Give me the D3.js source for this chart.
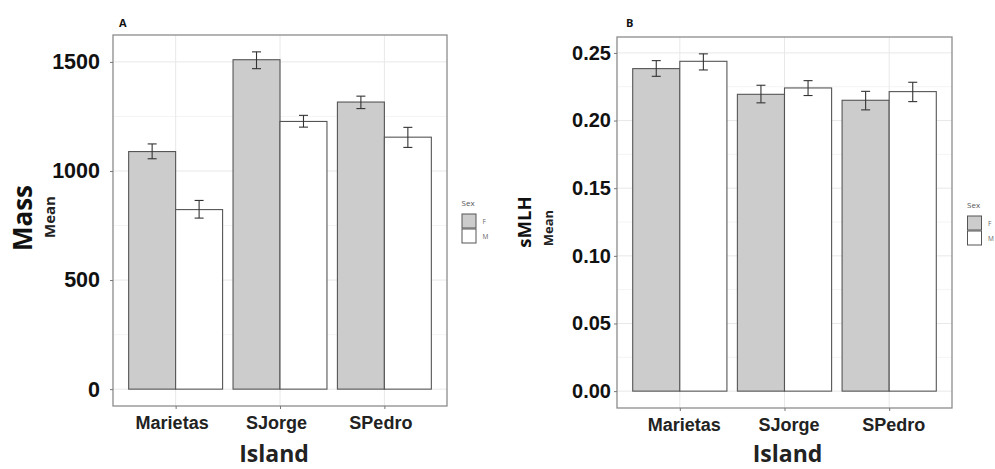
<!DOCTYPE html>
<html lang="en">
<head>
<meta charset="UTF-8">
<title>Mass and sMLH by island</title>
<script src="https://d3js.org/d3.v7.min.js"></script>
<style>
    body { margin: 0; background: #fff; }
    svg { display: block; font-family: "Open Sans", "DejaVu Sans", sans-serif; }
</style>
</head>
<body>
<div id="chart"></div>
<script>
    // categories
    const islands = ["Marietas", "SJorge", "SPedro"];
    const sexes = ["F", "M"];

    // panel A: Mass (mean, lower and upper error bar ends)
    const massMeanF = [1089, 1510, 1316];
    const massMeanM = [823, 1227, 1155];
    const massLowF = [1056, 1469, 1286];
    const massHighF = [1124, 1546, 1343];
    const massLowM = [784, 1201, 1108];
    const massHighM = [865, 1255, 1200];
    const massTicks = [0, 500, 1000, 1500];
    const massMinor = [250, 750, 1250];

    // panel B: sMLH
    const mlhMeanF = [0.2384, 0.2194, 0.2150];
    const mlhMeanM = [0.2438, 0.2241, 0.2214];
    const mlhLowF = [0.2327, 0.2131, 0.2079];
    const mlhHighF = [0.2443, 0.2261, 0.2216];
    const mlhLowM = [0.2374, 0.2185, 0.2140];
    const mlhHighM = [0.2493, 0.2295, 0.2283];
    const mlhTicks = [0, 0.05, 0.10, 0.15, 0.20, 0.25];
    const mlhMinor = [0.025, 0.075, 0.125, 0.175, 0.225];

    const fills = { F: "#cccccc", M: "#ffffff" };

    const svg = d3.select("#chart").append("svg")
        .attr("width", 995)
        .attr("height", 469);

    function drawPanel(p) {
        const g = svg.append("g");

        // build rows for bars
        const rows = [];
        islands.forEach((isl, i) => {
            rows.push({ i: i, sex: "F", mean: p.meanF[i], lo: p.lowF[i], hi: p.highF[i] });
            rows.push({ i: i, sex: "M", mean: p.meanM[i], lo: p.lowM[i], hi: p.highM[i] });
        });

        // ggplot style 5% expansion on y, 0.6 units on discrete x
        const top = d3.max(rows, d => d.hi);
        const pad = top * 0.05;
        const y = d3.scaleLinear().domain([-pad, top + pad]).range([p.bottom, p.top]);
        const x = d3.scaleLinear().domain([0.4, islands.length + 0.6]).range([p.left, p.right]);

        // grid
        g.selectAll(".minor").data(p.minor).enter().append("line")
            .attr("x1", p.left).attr("x2", p.right)
            .attr("y1", d => y(d)).attr("y2", d => y(d))
            .attr("stroke", "#f4f4f4").attr("stroke-width", 1);
        g.selectAll(".major").data(p.ticks).enter().append("line")
            .attr("x1", p.left).attr("x2", p.right)
            .attr("y1", d => y(d)).attr("y2", d => y(d))
            .attr("stroke", "#e8e8e8").attr("stroke-width", 1);
        g.selectAll(".vgrid").data(islands).enter().append("line")
            .attr("x1", (d, i) => x(i + 1)).attr("x2", (d, i) => x(i + 1))
            .attr("y1", p.top).attr("y2", p.bottom)
            .attr("stroke", "#e8e8e8").attr("stroke-width", 1);

        // bars (dodge width 0.9)
        const bw = 0.45;
        g.selectAll(".bar").data(rows).enter().append("rect")
            .attr("x", d => x(d.i + 1 + (d.sex === "F" ? -bw : 0)))
            .attr("width", d => x(bw) - x(0))
            .attr("y", d => y(d.mean))
            .attr("height", d => y(0) - y(d.mean))
            .attr("fill", d => fills[d.sex])
            .attr("stroke", "#555")
            .attr("stroke-width", 1.1);

        // error bars
        const cap = 4.5;
        const eb = g.selectAll(".err").data(rows).enter().append("g")
            .attr("stroke", "#333").attr("stroke-width", 1.1);
        const cx = d => x(d.i + 1 + (d.sex === "F" ? -bw / 2 : bw / 2));
        eb.append("line").attr("x1", cx).attr("x2", cx)
            .attr("y1", d => y(d.lo)).attr("y2", d => y(d.hi));
        eb.append("line").attr("x1", d => cx(d) - cap).attr("x2", d => cx(d) + cap)
            .attr("y1", d => y(d.lo)).attr("y2", d => y(d.lo));
        eb.append("line").attr("x1", d => cx(d) - cap).attr("x2", d => cx(d) + cap)
            .attr("y1", d => y(d.hi)).attr("y2", d => y(d.hi));

        // panel border
        g.append("rect")
            .attr("x", p.left).attr("y", p.top)
            .attr("width", p.right - p.left).attr("height", p.bottom - p.top)
            .attr("fill", "none").attr("stroke", "#8c8c8c").attr("stroke-width", 1.3);

        // y axis
        const yAxis = g.append("g")
            .attr("transform", "translate(" + p.left + ",0)")
            .call(d3.axisLeft(y).tickValues(p.ticks).tickFormat(p.fmt).tickSize(3).tickPadding(p.yPad));
        yAxis.select(".domain").remove();
        yAxis.selectAll("line").attr("stroke", "#777");
        yAxis.selectAll("text")
            .attr("fill", "#111")
            .style("font-size", p.tickSize + "px")
            .style("font-weight", "bold");

        // x axis
        const xAxis = g.append("g")
            .attr("transform", "translate(0," + p.bottom + ")")
            .call(d3.axisBottom(x).tickValues([1, 2, 3]).tickFormat(d => islands[d - 1]).tickSize(3).tickPadding(7));
        xAxis.select(".domain").remove();
        xAxis.selectAll("line").attr("stroke", "#777");
        xAxis.selectAll("text")
            .attr("fill", "#222")
            .attr("dx", p.labelDx)
            .style("font-size", "18px")
            .style("font-weight", "bold");

        // axis titles
        g.append("text")
            .attr("x", (p.left + p.right) / 2 + p.titleDx).attr("y", 462)
            .attr("text-anchor", "middle")
            .style("font-size", "23px").style("font-weight", "bold")
            .attr("fill", "#222")
            .text("Island");

        g.append("text")
            .attr("transform", "translate(" + p.bigX + "," + p.bigY + ") rotate(-90)")
            .attr("text-anchor", "middle")
            .style("font-size", p.bigSize + "px").style("font-weight", "bold")
            .attr("fill", "#111")
            .text(p.name);
        g.append("text")
            .attr("transform", "translate(" + p.meanX + "," + p.meanY + ") rotate(-90)")
            .attr("text-anchor", "middle")
            .style("font-size", p.meanSize + "px").style("font-weight", "bold")
            .attr("fill", "#222")
            .text("Mean");

        // panel tag
        g.append("text")
            .attr("x", p.tagX).attr("y", 27)
            .style("font-size", "11px").style("font-weight", "bold")
            .attr("fill", "#111")
            .text(p.tag);

        // legend
        const lg = g.append("g").attr("transform", "translate(" + p.legX + "," + p.legY + ")");
        lg.append("text").attr("x", 0).attr("y", 0)
            .style("font-size", "8px").attr("fill", "#555").text("Sex");
        sexes.forEach((s, k) => {
            lg.append("rect")
                .attr("x", 0.5).attr("y", 8 + k * 15)
                .attr("width", 14).attr("height", 14)
                .attr("fill", fills[s]).attr("stroke", "#555").attr("stroke-width", 1);
            lg.append("text")
                .attr("x", 21).attr("y", 18 + k * 15)
                .style("font-size", "6.5px").attr("fill", "#666").text(s);
        });
    }

    drawPanel({
        tag: "A", name: "Mass",
        meanF: massMeanF, meanM: massMeanM,
        lowF: massLowF, highF: massHighF, lowM: massLowM, highM: massHighM,
        ticks: massTicks, minor: massMinor, fmt: d3.format("d"), tickSize: 21.5,
        left: 113, right: 447, top: 35, bottom: 406,
        yPad: 10, labelDx: -4, titleDx: -6,
        bigX: 32, bigY: 218, bigSize: 26, meanX: 55, meanY: 217, meanSize: 15,
        tagX: 119, legX: 461.5, legY: 206
    });

    drawPanel({
        tag: "B", name: "sMLH",
        meanF: mlhMeanF, meanM: mlhMeanM,
        lowF: mlhLowF, highF: mlhHighF, lowM: mlhLowM, highM: mlhHighM,
        ticks: mlhTicks, minor: mlhMinor, fmt: d3.format(".2f"), tickSize: 20,
        left: 617, right: 952, top: 37, bottom: 408,
        yPad: 3, labelDx: 4, titleDx: 3,
        bigX: 531, bigY: 222, bigSize: 18.5, meanX: 553, meanY: 228, meanSize: 13,
        tagX: 626, legX: 967, legY: 208
    });
</script>
</body>
</html>
